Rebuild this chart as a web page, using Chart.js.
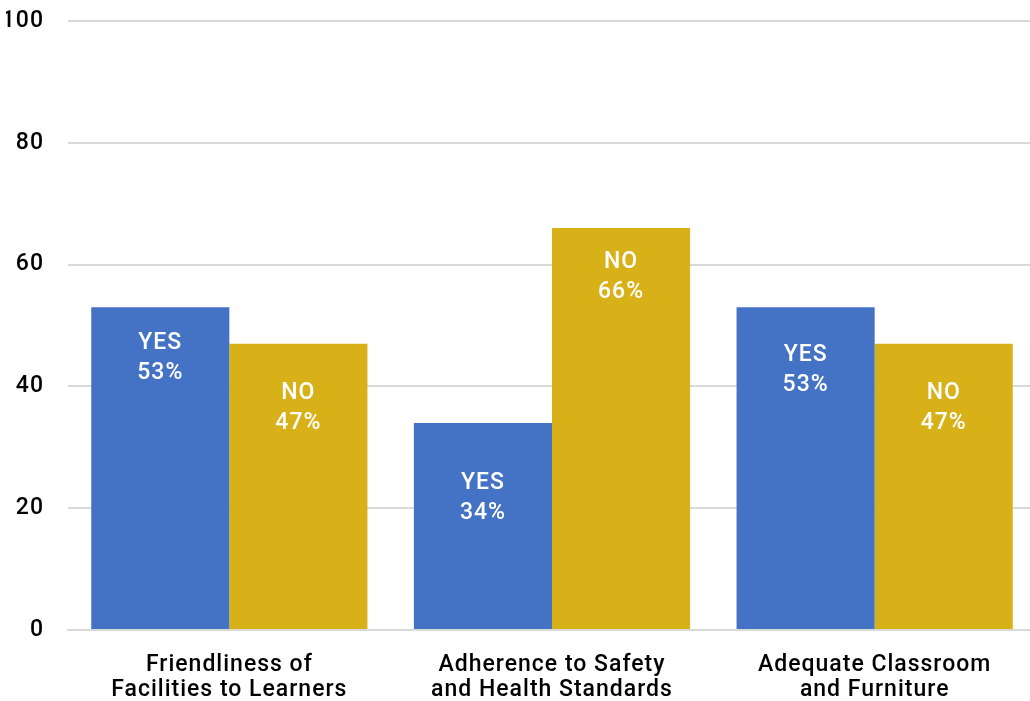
<!DOCTYPE html>
<html>
<head>
<meta charset="utf-8">
<script src="https://cdn.jsdelivr.net/npm/chart.js@4"></script>
<style>
  html, body { margin: 0; padding: 0; background: #fff; overflow: hidden; }
  #wrap { width: 1036px; height: 701px; }
</style>
</head>
<body>
<div id="wrap"><canvas id="surveyChart"></canvas></div>
<script>
const categories = [
    ["Friendliness of", "Facilities to Learners"],
    ["Adherence to Safety", "and Health Standards"],
    ["Adequate Classroom", "and Furniture"]
];
const yesValues = [53, 34, 53];
const noValues = [47, 66, 47];
const yTicks = [0, 20, 40, 60, 80, 100];

// how far below the bar top each label sits (px), per dataset / bar
const labelDrop = [[36, 60, 48], [49, 34, 49]];

// slightly wider text throughout
const spacing = {
    id: "spacing",
    beforeUpdate(chart) { chart.ctx.letterSpacing = "1px"; },
    beforeDraw(chart) { chart.ctx.letterSpacing = "1px"; }
};

const barLabels = {
    id: "barLabels",
    afterDatasetsDraw(chart) {
        const ctx = chart.ctx;
        ctx.save();
        ctx.letterSpacing = "1px";
        ctx.fillStyle = "#ffffff";
        ctx.font = "500 23px Roboto";
        ctx.textAlign = "center";
        ctx.textBaseline = "middle";
        chart.data.datasets.forEach((ds, di) => {
            chart.getDatasetMeta(di).data.forEach((bar, i) => {
                const y = bar.y + labelDrop[di][i];
                ctx.fillText(ds.label, bar.x, y);
                ctx.fillText(ds.data[i] + "%", bar.x, y + 30);
            });
        });
        ctx.restore();
    }
};

const ctx = document.getElementById("surveyChart").getContext("2d");
new Chart(ctx, {
    type: "bar",
    data: {
        labels: categories,
        datasets: [
            {
                label: "YES",
                data: yesValues,
                backgroundColor: "#4472C4",
            },
            {
                label: "NO",
                data: noValues,
                backgroundColor: "#D8B118",
            },
        ],
    },
    options: {
        animation: false,
        responsive: true,
        maintainAspectRatio: false,
        layout: {
            padding: { top: 21, right: 0, left: 6, bottom: 0 }
        },
        datasets: {
            bar: { barPercentage: 1, categoryPercentage: 0.856 }
        },
        plugins: {
            legend: { display: false },
            tooltip: { enabled: false },
        },
        scales: {
            x: {
                grid: { display: false, drawTicks: false },
                border: { color: "#d9d9d9", width: 2 },
                afterFit(axis) {
                    axis.height = 71;
                    axis.paddingLeft = 0;
                    axis.paddingRight = 0;
                },
                ticks: {
                    color: "#000",
                    padding: 23,
                    font: { family: "Roboto", size: 23, weight: "500", lineHeight: 1.09 },
                    maxRotation: 0,
                },
            },
            y: {
                min: 0,
                max: 100,
                afterBuildTicks(axis) {
                    axis.ticks = yTicks.map((v) => ({ value: v }));
                },
                afterFit(axis) {
                    axis.width = 62;
                    axis.paddingTop = 0;
                    axis.paddingBottom = 0;
                },
                grid: { color: "#d9d9d9", lineWidth: 2, drawTicks: false },
                border: { display: false },
                ticks: {
                    color: "#000",
                    padding: 24,
                    font: { family: "Roboto", size: 23, weight: "500" },
                },
            },
        },
    },
    plugins: [spacing, barLabels],
});
</script>
</body>
</html>
